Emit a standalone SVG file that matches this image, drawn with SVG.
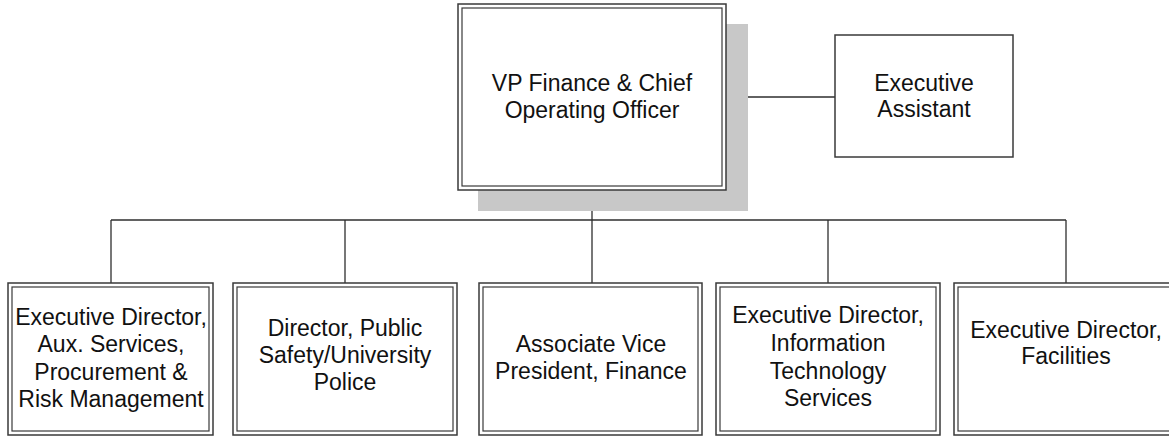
<svg xmlns="http://www.w3.org/2000/svg" width="1169" height="436" viewBox="0 0 1169 436">
<style>
.box{fill:#fff;stroke:#3a3a3a;stroke-width:1.5}
.inner{fill:none;stroke:#3a3a3a;stroke-width:1.2}
.shadow{fill:#c8c8c8}
.conn{fill:none;stroke:#2e2e2e;stroke-width:1.3}
text{font-family:"Liberation Sans",Arial,sans-serif;font-size:23px;fill:#111;text-anchor:middle}
</style>
<rect width="1169" height="436" fill="#fff"/>
<g id="connectors">
<line class="conn" x1="726" y1="97" x2="835" y2="97"/>
<line class="conn" x1="592" y1="190" x2="592" y2="283"/>
<line class="conn" x1="111" y1="220" x2="1066" y2="220"/>
<line class="conn" x1="111" y1="220" x2="111" y2="283"/>
<line class="conn" x1="345" y1="220" x2="345" y2="283"/>
<line class="conn" x1="828" y1="220" x2="828" y2="283"/>
<line class="conn" x1="1066" y1="220" x2="1066" y2="283"/>
</g>
<g id="vp">
<rect class="shadow" x="478" y="24" width="270" height="187"/>
<rect class="box" x="458" y="4" width="268" height="186"/>
<rect class="inner" x="462" y="8" width="260" height="178"/>
<text x="592" y="91">VP Finance &amp; Chief</text>
<text x="592" y="118">Operating Officer</text>
</g>
<g id="assistant">
<rect class="box" x="835" y="35" width="178" height="122"/>
<text x="924" y="91">Executive</text>
<text x="924" y="117">Assistant</text>
</g>
<g id="aux">
<rect class="box" x="8" y="283" width="205" height="152"/>
<rect class="inner" x="12" y="287" width="197" height="144"/>
<text x="111" y="325">Executive Director,</text>
<text x="111" y="352">Aux. Services,</text>
<text x="111" y="380">Procurement &amp;</text>
<text x="111" y="407">Risk Management</text>
</g>
<g id="police">
<rect class="box" x="233" y="283" width="224" height="152"/>
<rect class="inner" x="237" y="287" width="216" height="144"/>
<text x="345" y="336">Director, Public</text>
<text x="345" y="363">Safety/University</text>
<text x="345" y="390">Police</text>
</g>
<g id="finance">
<rect class="box" x="479" y="283" width="223" height="152"/>
<rect class="inner" x="483" y="287" width="215" height="144"/>
<text x="591" y="352">Associate Vice</text>
<text x="591" y="379">President, Finance</text>
</g>
<g id="its">
<rect class="box" x="716" y="283" width="224" height="152"/>
<rect class="inner" x="720" y="287" width="216" height="144"/>
<text x="828" y="323">Executive Director,</text>
<text x="828" y="351">Information</text>
<text x="828" y="379">Technology</text>
<text x="828" y="406">Services</text>
</g>
<g id="facilities">
<rect class="box" x="954" y="283" width="224" height="152"/>
<rect class="inner" x="958" y="287" width="216" height="144"/>
<text x="1066" y="338">Executive Director,</text>
<text x="1066" y="364">Facilities</text>
</g>
</svg>
